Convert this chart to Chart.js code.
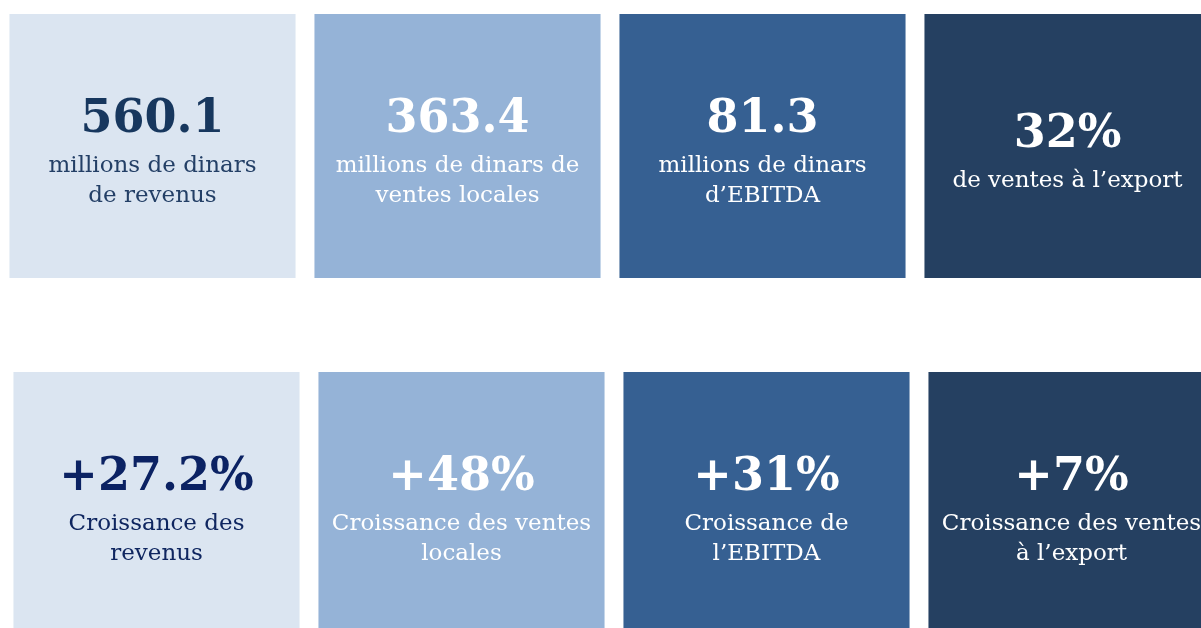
<!DOCTYPE html>
<html>
<head>
<meta charset="utf-8">
<script src="https://cdn.jsdelivr.net/npm/chart.js@4.4.1/dist/chart.umd.min.js"></script>
<style>
  html, body { margin: 0; padding: 0; background: #ffffff; overflow: hidden; width: 1201px; height: 628px; }
  .row { position: absolute; }
  #topRow { left: 0px; top: 14px; }
  #bottomRow { left: 4px; top: 372px; }
</style>
</head>
<body>
<canvas id="topRow" class="row" width="1220" height="264"></canvas>
<canvas id="bottomRow" class="row" width="1220" height="264"></canvas>
<script>
const categories = ["Revenus", "Ventes locales", "EBITDA", "Export"];

// chiffres clés
const keyValues = [560.1, 363.4, 81.3, 32];
const keyUnits = ["", "", "", "%"];
const keyCaptions = [
  ["millions de dinars", "de revenus"],
  ["millions de dinars de", "ventes locales"],
  ["millions de dinars", "d\u2019EBITDA"],
  ["de ventes \u00e0 l\u2019export"],
];

// croissance
const growthValues = [27.2, 48, 31, 7];
const growthCaptions = [
  ["Croissance des", "revenus"],
  ["Croissance des ventes", "locales"],
  ["Croissance de", "l\u2019EBITDA"],
  ["Croissance des ventes", "\u00e0 l\u2019export"],
];

const tileColors = ["#dbe5f1", "#95b3d7", "#366092", "#254061"];

const tileText = {
  id: "tileText",
  afterDatasetsDraw(chart, args, opts) {
    const ctx = chart.ctx;
    const meta = chart.getDatasetMeta(0);
    meta.data.forEach(function (bar, i) {
      const cy = (bar.y + bar.base) / 2;
      const lines = opts.captions[i];
      let y = cy + 12 - (46 + 30 * (lines.length - 1)) / 2;
      ctx.save();
      ctx.textAlign = "center";
      ctx.textBaseline = "middle";
      ctx.fillStyle = i === 0 ? opts.darkColor : "#ffffff";
      ctx.font = "bold 46px 'DejaVu Serif'";
      ctx.fillText(opts.labels[i], bar.x, y);
      ctx.fillStyle = i === 0 ? opts.captionColor : "#ffffff";
      ctx.font = "23px 'DejaVu Serif'";
      y += 46;
      lines.forEach(function (line) {
        ctx.fillText(line, bar.x, y);
        y += 30;
      });
      ctx.restore();
    });
  },
};

function makeRow(id, labels, captions, darkColor, captionColor) {
  new Chart(document.getElementById(id), {
    type: "bar",
    data: {
      labels: categories,
      datasets: [
        {
          data: categories.map(function () { return 1; }),
          backgroundColor: tileColors,
          borderWidth: 0,
          barPercentage: 0.938,
          categoryPercentage: 1,
        },
      ],
    },
    options: {
      responsive: false,
      animation: false,
      layout: { padding: 0 },
      scales: {
        x: { display: false },
        y: { display: false, min: 0, max: 1 },
      },
      plugins: {
        legend: { display: false },
        tooltip: { enabled: false },
        tileText: {
          labels: labels,
          captions: captions,
          darkColor: darkColor,
          captionColor: captionColor,
        },
      },
    },
    plugins: [tileText],
  });
}

makeRow(
  "topRow",
  keyValues.map(function (v, i) { return String(v) + keyUnits[i]; }),
  keyCaptions,
  "#17375e",
  "#233f66"
);
makeRow(
  "bottomRow",
  growthValues.map(function (v) { return "+" + String(v) + "%"; }),
  growthCaptions,
  "#0b2263",
  "#0f2660"
);
</script>
</body>
</html>
